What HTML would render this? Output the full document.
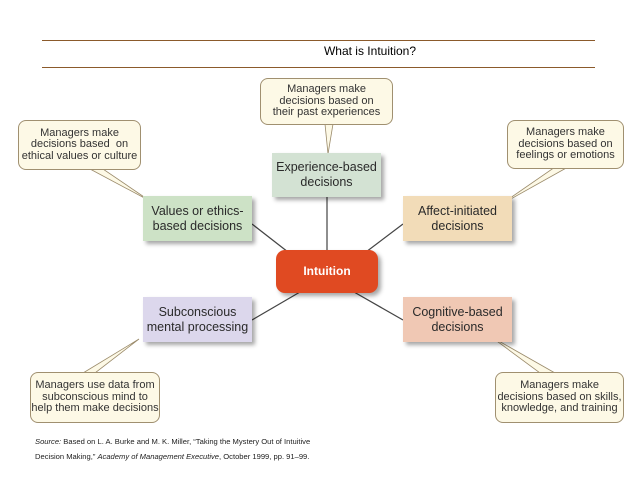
<!DOCTYPE html>
<html><head><style>
body{margin:0;width:638px;height:479px;background:#fff;position:relative;overflow:hidden;font-family:"Liberation Sans",sans-serif}
.b{position:absolute;display:flex;align-items:center;justify-content:center;text-align:center;color:#2a2a2a;font-size:12.5px;line-height:15px;box-shadow:3px 3px 4px rgba(0,0,0,.35)}
.c{position:absolute;display:flex;align-items:center;justify-content:center;text-align:center;background:#fdf9e6;border:1px solid #a09070;border-radius:8px;color:#333;font-size:11px;line-height:11.5px;box-sizing:border-box}
</style></head><body>
<div style="position:absolute;left:42px;top:40px;width:553px;height:1px;background:#8b5a2b"></div>
<div style="position:absolute;left:42px;top:67px;width:553px;height:1px;background:#8b5a2b"></div>
<div style="position:absolute;left:300px;top:40px;width:140px;text-align:center;top:41px;font-size:12px;line-height:20px;color:#000">What is Intuition?</div>
<svg width="638" height="479" style="position:absolute;left:0;top:0">
<g stroke="#444" stroke-width="1.2">
<line x1="252" y1="224" x2="288" y2="252"/>
<line x1="327" y1="197" x2="327" y2="250"/>
<line x1="403" y1="224" x2="366" y2="252"/>
<line x1="300" y1="292" x2="252" y2="320"/>
<line x1="354" y1="292" x2="403" y2="320"/>
</g>
<g fill="#fdf9e6" stroke="#9a8a6a" stroke-width="0.8">
<polygon points="90,169 103,169 150,201"/>
<polygon points="325,124 333,124 328,154"/>
<polygon points="555,167 568,167 500,205"/>
<polygon points="83,373 95,373 139,339"/>
<polygon points="540,373 555,373 490,336"/>
</g>
</svg>
<div class="c" style="left:260px;top:78px;width:133px;height:47px">Managers make<br>decisions based on<br>their past experiences</div>
<div class="c" style="left:18px;top:120px;width:123px;height:50px">Managers make<br>decisions based&nbsp; on<br>ethical values or culture</div>
<div class="c" style="left:507px;top:120px;width:117px;height:49px">Managers make<br>decisions based on<br>feelings or emotions</div>
<div class="c" style="left:30px;top:372px;width:130px;height:51px">Managers use data from<br>subconscious mind to<br>help them make decisions</div>
<div class="c" style="left:495px;top:372px;width:129px;height:51px">Managers make<br>decisions based on skills,<br>knowledge, and training</div>
<div class="b" style="left:272px;top:153px;width:109px;height:44px;background:#d3e2d3">Experience-based<br>decisions</div>
<div class="b" style="left:143px;top:196px;width:109px;height:45px;background:#cde2c6">Values or ethics-<br>based decisions</div>
<div class="b" style="left:403px;top:196px;width:109px;height:45px;background:#f2dcb8">Affect-initiated<br>decisions</div>
<div class="b" style="left:276px;top:250px;width:102px;height:43px;background:#e04a22;border-radius:9px;color:#fff;font-weight:bold;font-size:12px">Intuition</div>
<div class="b" style="left:143px;top:297px;width:109px;height:45px;background:#dcd7ec">Subconscious<br>mental processing</div>
<div class="b" style="left:403px;top:297px;width:109px;height:45px;background:#f0c8b4">Cognitive-based<br>decisions</div>
<div style="position:absolute;left:35px;top:434px;font-size:7.6px;line-height:15px;color:#222"><i>Source:</i> Based on L. A. Burke and M. K. Miller, “Taking the Mystery Out of Intuitive<br>Decision Making,” <i>Academy of Management Executive</i>, October 1999, pp. 91–99.</div>
</body></html>
